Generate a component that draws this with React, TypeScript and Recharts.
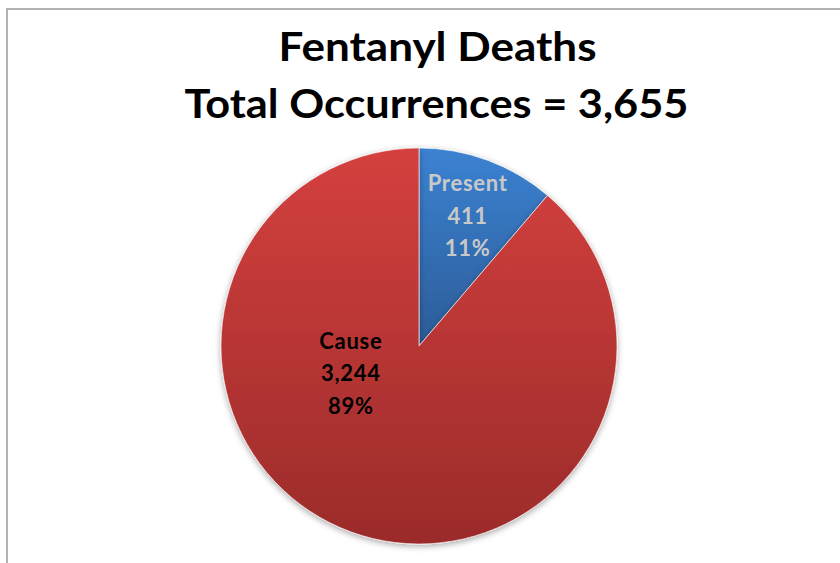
import React from "react";
import { PieChart, Pie, Cell } from "recharts";

const categories = ["Present", "Cause"];
const occurrences = [411, 3244];
const titleLines = ["Fentanyl Deaths", "Total Occurrences = 3,655"];

const data = categories.map((name, i) => ({ name, value: occurrences[i] }));

const FILLS = ["url(#gradBlue)", "url(#gradRed)"];
const LABEL_COLORS = ["#c9c9c9", "#000000"];
const RAD = Math.PI / 180;

const renderLabel = (props: any) => {
  const { cx, cy, midAngle, outerRadius, name, value, percent, index } = props;
  let x: number;
  let y: number;
  if (name === "Present") {
    const r = outerRadius * 0.71;
    x = cx + r * Math.cos(-midAngle * RAD);
    y = cy + r * Math.sin(-midAngle * RAD) + 1;
  } else {
    x = cx - outerRadius * 0.344;
    y = cy + outerRadius * 0.135;
  }
  const lines = [name, Number(value).toLocaleString("en-US"), `${Math.round(percent * 100)}%`];
  return (
    <text
      x={x}
      y={y}
      textAnchor="middle"
      fill={LABEL_COLORS[index]}
      fontFamily="Lato, 'Open Sans', sans-serif"
      fontWeight={700}
      fontSize={22}
      letterSpacing={0.7}
    >
      {lines.map((l, i) => (
        <tspan key={i} x={x} y={y + (i - 1) * 32.5} dominantBaseline="central">
          {l}
        </tspan>
      ))}
    </text>
  );
};

export default function App() {
  return (
    <div style={{ position: "absolute", left: 0, top: 0, width: 840, height: 563, background: "#fff", overflow: "hidden" }}>
      <svg width={840} height={563} style={{ position: "absolute", left: 0, top: 0 }}>
        <rect x={7} y={9} width={850} height={580} fill="#fff" stroke="#9a9a9a" strokeWidth={1.5} />
      </svg>
      <div style={{ position: "absolute", left: 0, top: 0 }}>
        <PieChart width={840} height={563} margin={{ top: 0, right: 0, bottom: 0, left: 0 }}>
          <defs>
            <linearGradient id="gradBlue" x1="0" y1="0" x2="0" y2="1">
              <stop offset="0%" stopColor="#3b82d2" />
              <stop offset="100%" stopColor="#2c5c98" />
            </linearGradient>
            <linearGradient id="gradRed" x1="0" y1="0" x2="0" y2="1">
              <stop offset="0%" stopColor="#d4403e" />
              <stop offset="100%" stopColor="#9b2b2a" />
            </linearGradient>
            <filter id="pieShadow" x="-10%" y="-10%" width="120%" height="125%">
              <feDropShadow dx={0} dy={2} stdDeviation={3} floodColor="#000" floodOpacity={0.35} />
            </filter>
          </defs>
          <Pie
            data={data}
            dataKey="value"
            nameKey="name"
            cx={419}
            cy={346}
            outerRadius={198}
            startAngle={90}
            endAngle={-270}
            stroke="#ffffff"
            strokeWidth={0.6}
            labelLine={false}
            label={renderLabel}
            isAnimationActive={false}
            style={{ filter: "url(#pieShadow)" }}
          >
            {data.map((d, i) => (
              <Cell key={d.name} fill={FILLS[i]} />
            ))}
          </Pie>
        </PieChart>
      </div>
      <svg width={840} height={563} style={{ position: "absolute", left: 0, top: 0, pointerEvents: "none" }}>
        <text
          x={437.5}
          y={61}
          textAnchor="middle"
          fontFamily="Lato, 'Open Sans', sans-serif"
          fontWeight={700}
          fontSize={40}
          fill="#000"
          textLength={318}
          lengthAdjust="spacingAndGlyphs"
        >
          {titleLines[0]}
        </text>
        <text
          x={436.5}
          y={118}
          textAnchor="middle"
          fontFamily="Lato, 'Open Sans', sans-serif"
          fontWeight={700}
          fontSize={40}
          fill="#000"
          textLength={504}
          lengthAdjust="spacingAndGlyphs"
        >
          {titleLines[1]}
        </text>
      </svg>
    </div>
  );
}
